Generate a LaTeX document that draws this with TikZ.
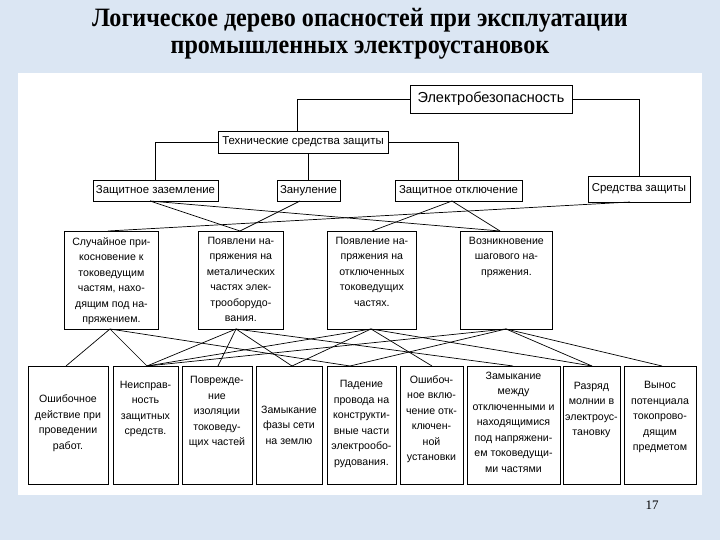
\documentclass[tikz,border=0pt]{standalone}
\usepackage{fontspec}
\setmainfont{Liberation Serif}
\newfontfamily\diagfont{Liberation Sans}
\usetikzlibrary{calc}
\definecolor{slidebg}{RGB}{219,230,243}
\newcommand\mkbox[5]{\node[boxst,anchor=north west,minimum width=#4pt,minimum height=#5pt] (#1) at (#2,#3) {};}
\begin{document}
\begin{tikzpicture}[x=1pt,y=-1pt,
  boxst/.style={draw=black,line width=0.8pt,fill=white,inner sep=0pt},
  txt/.style={font=\diagfont\fontsize{10.6}{15.5}\selectfont,align=center,inner sep=0pt},
  toptxt/.style={font=\diagfont\fontsize{11.4}{13}\selectfont,inner sep=0pt},
  con/.style={draw=black,line width=0.7pt},
  titlest/.style={font=\bfseries\fontsize{26.5}{30}\selectfont,inner sep=0pt}]
\fill[slidebg] (0,0) rectangle (720,540);
\useasboundingbox (0,0) rectangle (720,540);
\fill[white] (18,73) rectangle (702,495);
% title
\node[titlest] (t1) at (360,20) {\scalebox{0.91}[1]{Логическое дерево опасностей при эксплуатации}};
\node[titlest] (t2) at (360,50) {\scalebox{0.91}[1]{промышленных электроустановок}};
\node[font=\fontsize{13}{15}\selectfont,inner sep=0pt] (pg) at (652,505) {17};
% top level
\node[boxst,minimum width=162pt,minimum height=28pt,font=\diagfont\fontsize{14.5}{16}\selectfont] (es) at (491,99) {Электробезопасность};
\node[boxst,minimum width=170pt,minimum height=22pt,toptxt] (tsz) at (303,142) {Технические средства защиты};
\node[boxst,minimum width=125pt,minimum height=21pt,toptxt] (zaz) at (155.5,190.5) {Защитное заземление};
\node[boxst,minimum width=63pt,minimum height=21pt,toptxt] (zan) at (308.5,190.5) {Зануление};
\node[boxst,minimum width=127pt,minimum height=21pt,toptxt] (otk) at (458.5,190.5) {Защитное отключение};
\node[boxst,minimum width=102pt,minimum height=26pt,toptxt] (sz) at (639,189) {Средства защиты};
% top connectors
\draw[con] (es.west) -| (tsz.north -| 297,0);
\draw[con] (es.east) -| (sz.north);
\draw[con] (tsz.west) -| (zaz.north);
\draw[con] (tsz.south -| zan.north) -- (zan.north);
\draw[con] (tsz.east) -| (otk.north);
% middle row
\mkbox{ma}{64}{231}{94}{98}
\mkbox{mb}{198}{231}{85}{98}
\mkbox{mc}{327}{231}{89}{98}
\mkbox{md}{460}{231}{92}{98}
\node[txt,anchor=north] (mat) at ($(ma.north)+(0,6)$) {Случайное при-\\косновение к\\токоведущим\\частям, нахо-\\дящим под на-\\пряжением.};
\node[txt,anchor=north] (mbt) at ($(mb.north)+(0,6)$) {Появлени на-\\пряжения на\\металических\\частях элек-\\трооборудо-\\вания.};
\node[txt,anchor=north] (mct) at ($(mc.north)+(0,6)$) {Появление на-\\пряжения на\\отключенных\\токоведущих\\частях.};
\node[txt,anchor=north] (mdt) at ($(md.north)+(0,6)$) {Возникновение\\шагового на-\\пряжения.};
% bottom row
\mkbox{ba}{28}{366}{80}{118}
\mkbox{bb}{113}{366}{65}{118}
\mkbox{bc}{182}{366}{70}{118}
\mkbox{bd}{256}{366}{66}{118}
\mkbox{be}{327}{366}{69}{118}
\mkbox{bf}{400}{366}{63}{118}
\mkbox{bg}{467}{366}{93}{118}
\mkbox{bh}{563}{366}{57}{118}
\mkbox{bi}{624}{366}{72}{118}
\node[txt] (bat) at (68,423) {Ошибочное\\действие при\\проведении\\работ.};
\node[txt] (bbt) at (145.5,409) {Неисправ-\\ность\\защитных\\средств.};
\node[txt] (bct) at (217,412) {Поврежде-\\ние\\изоляции\\токоведу-\\щих частей};
\node[txt] (bdt) at (289,425) {Замыкание\\фазы сети\\на землю};
\node[txt] (bet) at (361.5,424) {Падение\\провода на\\конструкти-\\вные части\\электрообо-\\рудования.};
\node[txt] (bft) at (431.5,419) {Ошибоч-\\ное вклю-\\чение отк-\\ключен-\\ной\\установки};
\node[txt] (bgt) at (513.5,422) {Замыкание\\между\\отключенными и\\находящимися\\под напряжени-\\ем токоведущи-\\ми частями};
\node[txt] (bht) at (591.5,410) {Разряд\\молнии в\\электроус-\\тановку};
\node[txt] (bit) at (660,417) {Вынос\\потенциала\\токопрово-\\дящим\\предметом};
% coordinates for connectors
\coordinate (zazb) at (150,201);
\coordinate (zanb) at (300,201);
\coordinate (otkb) at (452,201);
\coordinate (szb) at (630,202);
\coordinate (mat1) at (108,231);
\coordinate (mbt1) at (240,231);
\coordinate (mct1) at (372,231);
\coordinate (mdt1) at (500,231);
\draw[con] (zazb) -- (mbt1);
\draw[con] (zazb) -- (mdt1);
\draw[con] (zanb) -- (mbt1);
\draw[con] (otkb) -- (mct1);
\draw[con] (otkb) -- (mdt1);
\draw[con] (szb) -- (mat1);
% middle to bottom
\coordinate (mab) at (110,329);
\coordinate (mbb) at (236,329);
\coordinate (mcb) at (371,329);
\coordinate (mdb) at (506,329);
\coordinate (bat1) at (66,366);
\coordinate (bbt1) at (147,366);
\coordinate (bct1) at (218,366);
\coordinate (bdt1) at (292,366);
\coordinate (bet1) at (350,366);
\coordinate (bft1) at (432,366);
\coordinate (bgt1) at (513,366);
\coordinate (bht1) at (592,366);
\coordinate (bit1) at (662,366);
\draw[con] (mab) -- (bat1);
\draw[con] (mab) -- (bbt1);
\draw[con] (mab) -- (bet1);
\draw[con] (mbb) -- (bbt1);
\draw[con] (mbb) -- (bct1);
\draw[con] (mbb) -- (bdt1);
\draw[con] (mbb) -- (bgt1);
\draw[con] (mcb) -- (bbt1);
\draw[con] (mcb) -- (bdt1);
\draw[con] (mcb) -- (bft1);
\draw[con] (mcb) -- (bht1);
\draw[con] (mdb) -- (bbt1);
\draw[con] (mdb) -- (bet1);
\draw[con] (mdb) -- (bht1);
\draw[con] (mdb) -- (bit1);
\end{tikzpicture}
\end{document}
